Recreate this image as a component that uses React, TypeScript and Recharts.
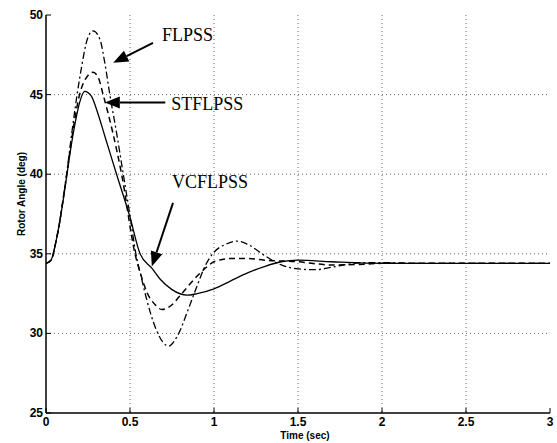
import {
  CartesianGrid,
  Line,
  LineChart,
  ReferenceDot,
  ReferenceLine,
  XAxis,
  YAxis,
} from "recharts";

// time (sec) / rotor angle (deg)
const vcflpssT = [0, 0.03, 0.06, 0.083, 0.1, 0.125, 0.15, 0.175, 0.2, 0.23, 0.27, 0.3, 0.35, 0.42, 0.5, 0.56, 0.63, 0.68, 0.75, 0.84, 0.9, 1.0, 1.1, 1.2, 1.3, 1.4, 1.5, 1.7, 2.0, 3.0];
const vcflpssV = [34.4, 34.6, 35.8, 37.1, 38.2, 40, 41.8, 43.3, 44.5, 45.2, 44.9, 44.1, 42.4, 40, 37.3, 35, 34.1, 33.4, 32.75, 32.4, 32.5, 32.8, 33.3, 33.8, 34.2, 34.5, 34.6, 34.5, 34.4, 34.4];

const stflpssT = [0, 0.03, 0.06, 0.083, 0.1, 0.125, 0.15, 0.2, 0.25, 0.28, 0.31, 0.34, 0.4, 0.45, 0.53, 0.57, 0.6, 0.65, 0.69, 0.75, 0.8, 0.9, 0.96, 1.0, 1.1, 1.2, 1.3, 1.5, 1.7, 1.9, 2.0, 3.0];
const stflpssV = [34.4, 34.6, 35.8, 37.1, 38.3, 40.1, 42, 45, 46.2, 46.4, 46.1, 45, 42.5, 40, 35, 33.5, 32.6, 31.8, 31.5, 31.8, 32.4, 33.6, 34.2, 34.5, 34.7, 34.7, 34.6, 34.5, 34.3, 34.35, 34.4, 34.4];

const flpssT = [0, 0.03, 0.06, 0.083, 0.1, 0.125, 0.15, 0.2, 0.25, 0.28, 0.32, 0.35, 0.38, 0.42, 0.46, 0.5, 0.535, 0.57, 0.6, 0.65, 0.7, 0.73, 0.78, 0.85, 0.9, 0.95, 1.0, 1.07, 1.14, 1.2, 1.3, 1.4, 1.5, 1.6, 1.7, 1.8, 1.9, 2.0, 2.2, 3.0];
const flpssV = [34.4, 34.6, 35.8, 37.1, 38.3, 40.2, 42.3, 46, 48.6, 49, 48.5, 47, 45, 42.6, 40, 37.4, 35, 33.4, 32.1, 30.4, 29.4, 29.2, 29.8, 31.6, 33, 34.3, 35.1, 35.6, 35.8, 35.6, 34.9, 34.3, 34.05, 34, 34.15, 34.35, 34.45, 34.45, 34.4, 34.4];

const xTicks = [0, 0.5, 1, 1.5, 2, 2.5, 3];
const yTicks = [25, 30, 35, 40, 45, 50];

// annotation labels and arrows (tail -> tip), in data units
const labelNames = ["FLPSS", "STFLPSS", "VCFLPSS"];
const labelT = [0.69, 0.745, 0.75];
const labelV = [48.75, 44.4, 39.5];
const arrowFrom = [[0.637, 48.25], [0.71, 44.5], [0.756, 38.2]];
const arrowTo = [[0.4, 47.0], [0.35, 44.5], [0.63, 34.2]];

const toPoints = (t: number[], v: number[]) => t.map((x, i) => ({ t: x, v: v[i] }));

const FONT = "Liberation Sans, Arial, sans-serif";

function BottomTick(props: any) {
  const { x, y, payload } = props;
  return (
    <g>
      <line x1={x} y1={y} x2={x} y2={y - 5} stroke="#000" />
      <text x={x} y={y + 13} textAnchor="middle" fontFamily={FONT} fontWeight="bold" fontSize={12} fill="#000">
        {payload.value}
      </text>
    </g>
  );
}

function TopTick(props: any) {
  const { x, y } = props;
  return <line x1={x} y1={y} x2={x} y2={y + 5} stroke="#000" />;
}

function LeftTick(props: any) {
  const { x, y, payload } = props;
  return (
    <g>
      <line x1={x} y1={y} x2={x + 5} y2={y} stroke="#000" />
      <text x={x - 3} y={y + 4} textAnchor="end" fontFamily={FONT} fontWeight="bold" fontSize={12} fill="#000">
        {payload.value}
      </text>
    </g>
  );
}

function RightTick(props: any) {
  const { x, y } = props;
  return <line x1={x} y1={y} x2={x - 5} y2={y} stroke="#000" />;
}

function Arrow(props: any) {
  const { x1, y1, x2, y2 } = props;
  const dx = x2 - x1;
  const dy = y2 - y1;
  const len = Math.sqrt(dx * dx + dy * dy) || 1;
  const ux = dx / len;
  const uy = dy / len;
  const headLen = 15;
  const headW = 6;
  const bx = x2 - ux * headLen;
  const by = y2 - uy * headLen;
  return (
    <g>
      <line x1={x1} y1={y1} x2={bx} y2={by} stroke="#000" strokeWidth={2} />
      <polygon
        points={`${x2},${y2} ${bx - uy * headW},${by + ux * headW} ${bx + uy * headW},${by - ux * headW}`}
        fill="#000"
      />
    </g>
  );
}

function YLabel(props: any) {
  const { viewBox } = props;
  const cx = viewBox.x + 21;
  const cy = viewBox.y + viewBox.height / 2 - 20;
  return (
    <text
      x={cx}
      y={cy}
      transform={`rotate(-90, ${cx}, ${cy})`}
      textAnchor="middle"
      dominantBaseline="central"
      fontFamily={FONT}
      fontWeight="bold"
      fontSize={10}
      fill="#000"
    >
      Rotor Angle (deg)
    </text>
  );
}

function XLabel(props: any) {
  const { viewBox } = props;
  return (
    <text
      x={viewBox.x + viewBox.width / 2 + 7}
      y={viewBox.y + 26}
      textAnchor="middle"
      fontFamily={FONT}
      fontWeight="bold"
      fontSize={10}
      fill="#000"
    >
      Time (sec)
    </text>
  );
}

export default function App() {
  return (
    <div style={{ position: "absolute", left: 0, top: 0, width: 557, height: 443, background: "#fff" }}>
      <LineChart width={557} height={443} margin={{ top: 15, right: 7, bottom: 0, left: 0 }}>
        <CartesianGrid
          stroke="#666"
          strokeDasharray="1 3"
          horizontalValues={[30, 35, 40, 45]}
          verticalValues={[0.5, 1, 1.5, 2, 2.5]}
        />
        <XAxis
          dataKey="t"
          type="number"
          domain={[0, 3]}
          ticks={xTicks}
          allowDuplicatedCategory={false}
          height={30}
          tickSize={0}
          tickMargin={0}
          tick={<BottomTick />}
          axisLine={{ stroke: "#000", strokeWidth: 1.5 }}
          interval={0}
          label={<XLabel />}
        />
        <XAxis
          xAxisId="top"
          orientation="top"
          dataKey="t"
          type="number"
          domain={[0, 3]}
          ticks={xTicks}
          height={0}
          tickSize={0}
          tickMargin={0}
          tick={<TopTick />}
          axisLine={{ stroke: "#000", strokeWidth: 1.5 }}
          interval={0}
        />
        <YAxis
          type="number"
          domain={[25, 50]}
          ticks={yTicks}
          width={46}
          tickSize={0}
          tickMargin={0}
          tick={<LeftTick />}
          axisLine={{ stroke: "#000", strokeWidth: 1.5 }}
          interval={0}
          label={<YLabel />}
        />
        <YAxis
          yAxisId="right"
          orientation="right"
          type="number"
          domain={[25, 50]}
          ticks={yTicks}
          width={0}
          tickSize={0}
          tickMargin={0}
          tick={<RightTick />}
          axisLine={{ stroke: "#000", strokeWidth: 1.5 }}
          interval={0}
        />
        <Line
          data={toPoints(flpssT, flpssV)}
          dataKey="v"
          type="monotone"
          stroke="#000"
          strokeWidth={1.3}
          strokeDasharray="7 3 2 3"
          dot={false}
          isAnimationActive={false}
        />
        <Line
          data={toPoints(stflpssT, stflpssV)}
          dataKey="v"
          type="monotone"
          stroke="#000"
          strokeWidth={1.5}
          strokeDasharray="6 4"
          dot={false}
          isAnimationActive={false}
        />
        <Line
          data={toPoints(vcflpssT, vcflpssV)}
          dataKey="v"
          type="monotone"
          stroke="#000"
          strokeWidth={1.3}
          dot={false}
          isAnimationActive={false}
        />
        {arrowFrom.map((from, i) => (
          <ReferenceLine
            key={"arrow" + i}
            segment={[
              { x: from[0], y: from[1] },
              { x: arrowTo[i][0], y: arrowTo[i][1] },
            ]}
            shape={<Arrow />}
            ifOverflow="visible"
          />
        ))}
        {labelNames.map((name, i) => (
          <ReferenceDot
            key={name}
            x={labelT[i]}
            y={labelV[i]}
            ifOverflow="visible"
            shape={(p: any) => (
              <text
                x={p.cx}
                y={p.cy + 6}
                fontFamily="Liberation Serif, Times New Roman, serif"
                fontSize={18}
                fill="#000"
              >
                {name}
              </text>
            )}
          />
        ))}
      </LineChart>
    </div>
  );
}
